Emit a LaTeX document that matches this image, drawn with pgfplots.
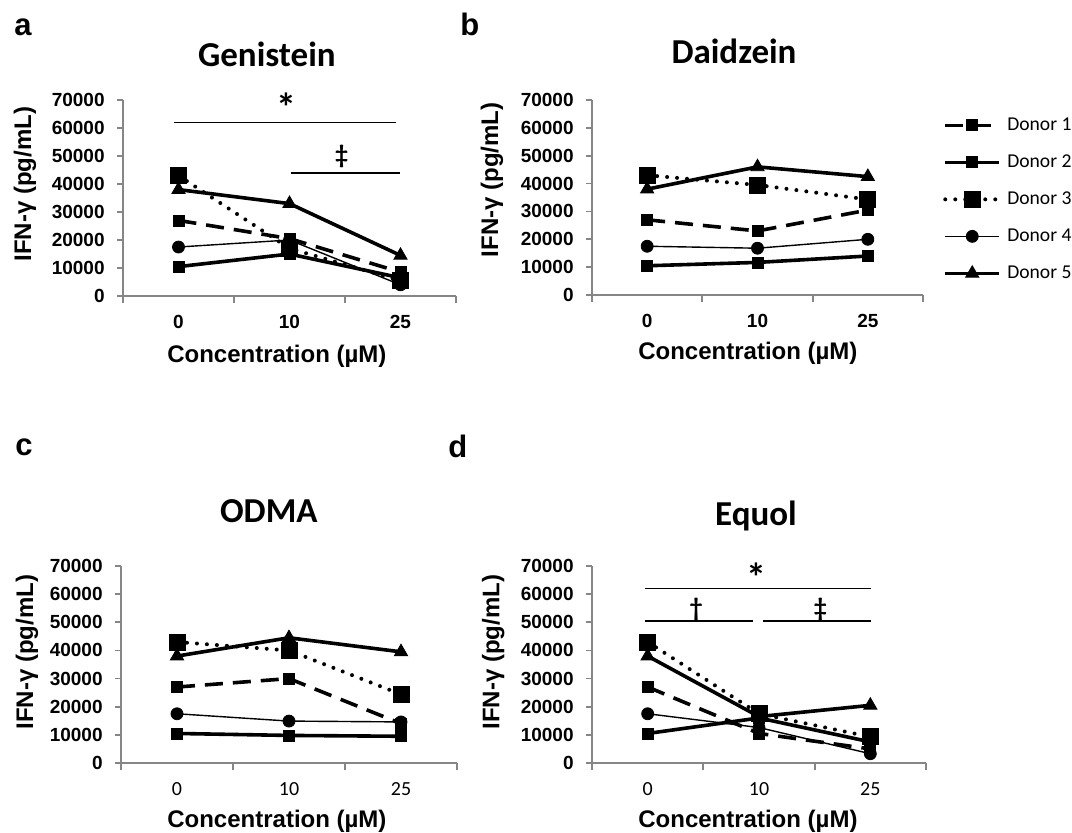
\documentclass[border=0pt]{standalone}
\usepackage{fontspec}
\setmainfont{Liberation Sans}
\newfontfamily\calibri{Carlito}
\usepackage{pgfplots}
\pgfplotsset{compat=1.18}
\definecolor{axisgray}{RGB}{134,134,134}

\tikzset{
  sig/.style={black, line width=0.85pt},
  sigtxt/.style={font=\calibri\bfseries\fontsize{13}{13}\selectfont, inner sep=0pt},
  star/.style={font=\calibri\bfseries\fontsize{20}{20}\selectfont, inner sep=0pt},
}
\pgfplotsset{
  every axis title shift=0pt,
  panel/.style={
    scale only axis,
    axis lines=left,
    axis line style={draw=axisgray, line width=0.85pt, -},
    xmin=-0.5, xmax=2.5, ymin=0, ymax=70000,
    xtick={0,1,2}, xticklabels={0,10,25},
    minor xtick={-0.5,0.5,1.5,2.5},
    ytick={0,10000,...,70000},
    tick align=outside,
    major tick length=3pt, minor tick length=3.5pt,
    tick style={draw=axisgray, line width=0.85pt},
    major x tick style={draw=none},
    scaled y ticks=false,
    /pgf/number format/1000 sep={},
    /pgf/number format/assume math mode=true,
    yticklabel style={font=\bfseries\fontsize{9.5}{10}\selectfont, anchor=east, inner sep=0pt, xshift=-6pt},
    label style={font=\bfseries\fontsize{12}{14}\selectfont},
    title style={font=\calibri\bfseries\fontsize{17.5}{20}\selectfont, anchor=base},
    xlabel={Concentration (µM)},
    ylabel={IFN-γ (pg/mL)},
    clip=false,
  },
  boldx/.style={xticklabel style={font=\bfseries\fontsize{9.5}{10}\selectfont, anchor=base, inner sep=0pt, yshift=-13pt}},
  calx/.style={xticklabel style={font=\calibri\fontsize{10}{11}\selectfont, anchor=base, inner sep=0pt, yshift=-13pt}},
  d1/.style={black, line width=1.8pt, dash pattern=on 9pt off 5pt, mark=square*, mark size=2.75pt, mark options={solid, line width=0.4pt}},
  d2/.style={black, line width=1.8pt, mark=square*, mark size=2.75pt, mark options={solid, line width=0.4pt}},
  d3/.style={black, line width=2pt, line cap=round, dash pattern=on 0pt off 5pt, mark=square*, mark size=4pt, mark options={solid, line width=0.4pt}},
  d4/.style={black, line width=0.7pt, mark=*, mark size=3pt, mark options={solid, line width=0.4pt}},
  d5/.style={black, line width=1.8pt, mark=triangle*, mark size=3.8pt, mark options={solid, line width=0.4pt}},
}

\begin{document}
\begin{tikzpicture}
\path[use as bounding box] (0,0) rectangle (536pt,-416pt);

% panel letters
\node[anchor=base west, inner sep=0pt, font=\bfseries\fontsize{15.5}{16}\selectfont] at (7pt,-17.5pt) {a};
\node[anchor=base west, inner sep=0pt, font=\bfseries\fontsize{15.5}{16}\selectfont] at (230pt,-17.5pt) {b};
\node[anchor=base west, inner sep=0pt, font=\bfseries\fontsize{15.5}{16}\selectfont] at (7.5pt,-227.5pt) {c};
\node[anchor=base west, inner sep=0pt, font=\bfseries\fontsize{15.5}{16}\selectfont] at (224pt,-228.5pt) {d};

% ---------- a: Genistein ----------
\begin{axis}[panel, boldx, at={(61.5pt,-148pt)}, anchor=south west, width=166.5pt, height=98pt,
  title={Genistein}, title style={at={(axis description cs:0.432,1.173)}},
  xlabel style={at={(axis description cs:0.462,-0.337)}, anchor=base},
  ylabel style={at={(axis description cs:-0.294,0.571)}, anchor=center}]
\addplot[d1] coordinates {(0,27000) (1,20500) (2,8500)};
\addplot[d2] coordinates {(0,10500) (1,15000) (2,6500)};
\addplot[d3] coordinates {(0,43000) (1,17000) (2,5500)};
\addplot[d4] coordinates {(0,17500) (1,20000) (2,4000)};
\addplot[d5] coordinates {(0,38000) (1,33000) (2,14500)};
\draw[sig] (axis cs:-0.045,62000) -- (axis cs:1.955,62000);
\draw[sig] (axis cs:1.01,44000) -- (axis cs:2.0,44000);
\node[star] at (axis cs:0.97,67300) {*};
\node[sigtxt] at (axis cs:1.47,50000) {‡};
\end{axis}

% ---------- b: Daidzein ----------
\begin{axis}[panel, boldx, at={(296pt,-147.5pt)}, anchor=south west, width=165.5pt, height=97.5pt,
  title={Daidzein}, title style={at={(axis description cs:0.429,1.185)}},
  xlabel style={at={(axis description cs:0.471,-0.333)}, anchor=base},
  ylabel style={at={(axis description cs:-0.302,0.59)}, anchor=center},
  legend style={draw=none, fill=none, inner sep=0pt, at={(axis description cs:1.06,0.967)}, anchor=north west,
    font=\calibri\fontsize{9.8}{11}\selectfont, nodes={inner sep=0pt, minimum height=18.5pt}, row sep=0pt, column sep=3pt},
  legend cell align=left,
  legend image code/.code={\draw[mark repeat=2,mark phase=2,#1] plot coordinates {(0pt,0pt) (13.5pt,0pt) (27pt,0pt)};}]
\addplot[d1] coordinates {(0,27000) (1,23000) (2,30500)};
\addlegendentry{Donor 1}
\addplot[d2] coordinates {(0,10500) (1,11700) (2,14000)};
\addlegendentry{Donor 2}
\addplot[d3] coordinates {(0,43000) (1,39500) (2,34300)};
\addlegendentry{Donor 3}
\addplot[d4] coordinates {(0,17500) (1,16800) (2,20000)};
\addlegendentry{Donor 4}
\addplot[d5] coordinates {(0,38000) (1,46000) (2,42500)};
\addlegendentry{Donor 5}
\end{axis}

% ---------- c: ODMA ----------
\begin{axis}[panel, calx, at={(60.5pt,-381.5pt)}, anchor=south west, width=168pt, height=98.5pt,
  title={ODMA}, title style={at={(axis description cs:0.44,1.223)}},
  xlabel style={at={(axis description cs:0.464,-0.325)}, anchor=base},
  ylabel style={at={(axis description cs:-0.28,0.563)}, anchor=center}]
\addplot[d1] coordinates {(0,27000) (1,30000) (2,14000)};
\addplot[d2] coordinates {(0,10500) (1,9800) (2,9500)};
\addplot[d3] coordinates {(0,43000) (1,40000) (2,24400)};
\addplot[d4] coordinates {(0,17500) (1,14900) (2,14600)};
\addplot[d5] coordinates {(0,38000) (1,44500) (2,39500)};
\end{axis}

% ---------- d: Equol ----------
\begin{axis}[panel, calx, at={(296pt,-381.5pt)}, anchor=south west, width=167pt, height=98.5pt,
  title={Equol}, title style={at={(axis description cs:0.491,1.208)}},
  xlabel style={at={(axis description cs:0.467,-0.325)}, anchor=base},
  ylabel style={at={(axis description cs:-0.296,0.563)}, anchor=center}]
\addplot[d1] coordinates {(0,27000) (1,10500) (2,5000)};
\addplot[d2] coordinates {(0,10500) (1,16000) (2,7500)};
\addplot[d3] coordinates {(0,43000) (1,17500) (2,9300)};
\addplot[d4] coordinates {(0,17500) (1,12600) (2,3300)};
\addplot[d5] coordinates {(0,38000) (1,16500) (2,20500)};
\draw[sig] (axis cs:-0.025,62000) -- (axis cs:2.007,62000);
\draw[sig] (axis cs:-0.025,50400) -- (axis cs:0.943,50400);
\draw[sig] (axis cs:1.04,50400) -- (axis cs:2.01,50400);
\node[star] at (axis cs:0.98,66200) {*};
\node[sigtxt] at (axis cs:0.434,54600) {†};
\node[sigtxt] at (axis cs:1.55,54600) {‡};
\end{axis}
\end{tikzpicture}
\end{document}
